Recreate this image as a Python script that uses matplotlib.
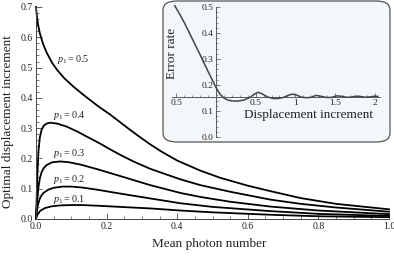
import numpy as np
import matplotlib
matplotlib.use("Agg")
import matplotlib.pyplot as plt
from matplotlib.patches import FancyBboxPatch
from matplotlib.ticker import MultipleLocator, FixedLocator

plt.rcParams['font.family'] = ['Liberation Serif', 'DejaVu Serif']
plt.rcParams['mathtext.fontset'] = 'custom'
plt.rcParams['mathtext.rm'] = 'Liberation Serif'
plt.rcParams['mathtext.it'] = 'Liberation Serif:italic'

# ---- main chart data ----
x_p05 = [0.0, 0.003, 0.006, 0.011, 0.02, 0.03, 0.045, 0.06, 0.08, 0.106, 0.13, 0.153, 0.18, 0.21,
         0.24, 0.267, 0.295, 0.323, 0.352, 0.40, 0.465, 0.522, 0.60, 0.664, 0.75, 0.85, 1.0]
y_p05 = [0.700, 0.665, 0.640, 0.613, 0.578, 0.550, 0.517, 0.492, 0.465, 0.437, 0.414, 0.393, 0.369, 0.345,
         0.318, 0.294, 0.270, 0.247, 0.225, 0.193, 0.160, 0.136, 0.110, 0.092, 0.069, 0.050, 0.032]

x_p04 = [0.0, 0.001, 0.002, 0.004, 0.007, 0.011, 0.016, 0.022, 0.03, 0.04, 0.06, 0.087, 0.115, 0.144,
         0.18, 0.21, 0.24, 0.276, 0.323, 0.352, 0.409, 0.465, 0.55, 0.664, 0.75, 0.85, 1.0]
y_p04 = [0.0, 0.035, 0.075, 0.150, 0.225, 0.270, 0.295, 0.308, 0.315, 0.318, 0.315, 0.305, 0.290, 0.272,
         0.250, 0.230, 0.211, 0.190, 0.166, 0.154, 0.131, 0.112, 0.090, 0.064, 0.050, 0.038, 0.024]

x_p03 = [0.0, 0.001, 0.003, 0.007, 0.011, 0.016, 0.022, 0.03, 0.045, 0.068, 0.09, 0.125, 0.172,
         0.238, 0.323, 0.409, 0.465, 0.55, 0.664, 0.8, 1.0]
y_p03 = [0.0, 0.025, 0.055, 0.105, 0.135, 0.155, 0.168, 0.178, 0.187, 0.190, 0.188, 0.180, 0.165,
         0.142, 0.112, 0.086, 0.073, 0.057, 0.041, 0.028, 0.016]

x_p02 = [0.0, 0.002, 0.005, 0.01, 0.015, 0.021, 0.035, 0.05, 0.075, 0.1, 0.13, 0.172, 0.238,
         0.323, 0.409, 0.5, 0.664, 0.8, 1.0]
y_p02 = [0.0, 0.022, 0.045, 0.065, 0.077, 0.086, 0.097, 0.103, 0.107, 0.107, 0.104, 0.097, 0.084,
         0.068, 0.052, 0.040, 0.026, 0.017, 0.010]

x_p01 = [0.0, 0.002, 0.005, 0.012, 0.025, 0.045, 0.07, 0.1, 0.13, 0.172, 0.238, 0.323, 0.409,
         0.5, 0.664, 0.8, 1.0]
y_p01 = [0.0, 0.008, 0.016, 0.027, 0.036, 0.042, 0.045, 0.046, 0.046, 0.044, 0.040, 0.035, 0.028,
         0.022, 0.014, 0.009, 0.006]

curve_labels = ['$p_1 = 0.5$', '$p_1 = 0.4$', '$p_1 = 0.3$', '$p_1 = 0.2$', '$p_1 = 0.1$']
label_x = [0.059, 0.048, 0.048, 0.048, 0.048]
label_y = [0.525, 0.342, 0.216, 0.131, 0.063]

main_xticks = [0.0, 0.2, 0.4, 0.6, 0.8, 1.0]
main_xticklabels = ['0.0', '0.2', '0.4', '0.6', '0.8', '1.0']
main_yticks = [0.0, 0.1, 0.2, 0.3, 0.4, 0.5, 0.6, 0.7]
main_yticklabels = ['0.0', '0.1', '0.2', '0.3', '0.4', '0.5', '0.6', '0.7']

# ---- inset data ----
x_err = [-0.52, -0.45, -0.4, -0.3, -0.2, -0.1, 0.0, 0.05, 0.1, 0.15, 0.2, 0.25, 0.3, 0.35, 0.42, 0.48,
         0.53, 0.58, 0.65, 0.72, 0.78, 0.85, 0.91, 0.96, 1.01, 1.08, 1.15, 1.2, 1.26, 1.32, 1.39, 1.45,
         1.52, 1.58, 1.64, 1.7, 1.76, 1.82, 1.88, 1.94, 2.0, 2.04]
y_err = [0.505, 0.468, 0.440, 0.378, 0.316, 0.252, 0.190, 0.165, 0.150, 0.142, 0.139, 0.138, 0.139, 0.142, 0.151, 0.164,
         0.172, 0.166, 0.154, 0.148, 0.148, 0.152, 0.160, 0.165, 0.162, 0.153, 0.151, 0.153, 0.160, 0.157, 0.152, 0.152,
         0.158, 0.157, 0.153, 0.153, 0.157, 0.156, 0.153, 0.154, 0.157, 0.156]
inset_xticks = [-0.5, 0.5, 1.0, 1.5, 2.0]
inset_xticklabels = ['0.5', '0.5', '1', '1.5', '2']
inset_yticks = [0.0, 0.1, 0.2, 0.3, 0.4, 0.5]
inset_yticklabels = ['0.0', '0.1', '0.2', '0.3', '0.4', '0.5']

W, H = 394, 256
fig = plt.figure(figsize=(W / 100, H / 100), dpi=100)

def fx(px):
    return px / W

def fy(py):
    return 1 - py / H

axc = '#444444'
txtc = '#222222'

ax = fig.add_axes([fx(36), fy(219), fx(389) - fx(36), fy(7) - fy(219)])
ax.set_xlim(0, 1.0)
ax.set_ylim(0, 0.7)
for s in ['top', 'right']:
    ax.spines[s].set_visible(False)
for s in ['left', 'bottom']:
    ax.spines[s].set_color(axc)
    ax.spines[s].set_linewidth(0.7)
ax.set_xticks(main_xticks)
ax.set_xticklabels(main_xticklabels)
ax.set_yticks(main_yticks)
ax.set_yticklabels(main_yticklabels)
ax.xaxis.set_minor_locator(MultipleLocator(0.05))
ax.yaxis.set_minor_locator(MultipleLocator(0.02))
ax.tick_params(which='major', direction='in', length=4, width=0.6, color=axc, labelsize=7,
               labelcolor=txtc, pad=2)
ax.tick_params(which='minor', direction='in', length=2, width=0.5, color=axc)
ax.patch.set_alpha(0)

for xs, ys in [(x_p05, y_p05), (x_p04, y_p04), (x_p03, y_p03), (x_p02, y_p02), (x_p01, y_p01)]:
    ax.plot(xs, ys, color='black', lw=1.3, clip_on=False, solid_joinstyle='round')

for t, lx, ly in zip(curve_labels, label_x, label_y):
    ax.text(lx, ly, t, fontsize=7.3, ha='left', va='center', color=txtc)

fig.text(fx(8), fy(122), 'Optimal displacement increment', rotation=90, ha='center', va='center',
         fontsize=9.5, color=txtc)
fig.text(fx(209), fy(244), 'Mean photon number', ha='center', va='center', fontsize=9.5, color=txtc)

# ---- inset box ----
box = FancyBboxPatch((fx(163), fy(142)), fx(390) - fx(163), fy(1) - fy(142),
                     boxstyle='round,pad=0,rounding_size=0.035', transform=fig.transFigure,
                     facecolor='#f3f7f9', edgecolor='#555555', lw=0.9, zorder=5)
fig.patches.append(box)

ai = fig.add_axes([fx(172), fy(137), fx(380) - fx(172), fy(7) - fy(137)], zorder=6)
ai.patch.set_alpha(0)
ai.set_xlim(-0.555, 2.068)
ai.set_ylim(0, 0.5)
for s in ['top', 'right']:
    ai.spines[s].set_visible(False)
ai.spines['left'].set_position(('data', 0))
ai.spines['bottom'].set_position(('data', 0.155))
for s in ['left', 'bottom']:
    ai.spines[s].set_color(axc)
    ai.spines[s].set_linewidth(0.6)
ai.set_xticks(inset_xticks)
ai.set_xticklabels(inset_xticklabels)
ai.set_yticks(inset_yticks)
ai.set_yticklabels(inset_yticklabels)
ai.yaxis.set_minor_locator(MultipleLocator(0.02))
ai.xaxis.set_minor_locator(FixedLocator([-0.4, -0.3, -0.2, -0.1, 0.1, 0.2, 0.3, 0.4, 0.6, 0.7, 0.8, 0.9,
                                          1.1, 1.2, 1.3, 1.4, 1.6, 1.7, 1.8, 1.9]))
ai.tick_params(which='major', direction='in', length=3, width=0.5, color=axc, labelsize=6.8,
               labelcolor=txtc, pad=1.5)
ai.tick_params(which='minor', direction='in', length=1.5, width=0.4, color=axc)
ai.plot(x_err, y_err, color='#444444', lw=1.1, clip_on=False)

fig.text(fx(172), fy(53), 'Error rate', rotation=90, ha='center', va='center', fontsize=9.5,
         color=txtc, zorder=7)
fig.text(fx(308), fy(115), 'Displacement increment', ha='center', va='center', fontsize=9.5,
         color=txtc, zorder=7)

fig.savefig('out.png', dpi=100)
